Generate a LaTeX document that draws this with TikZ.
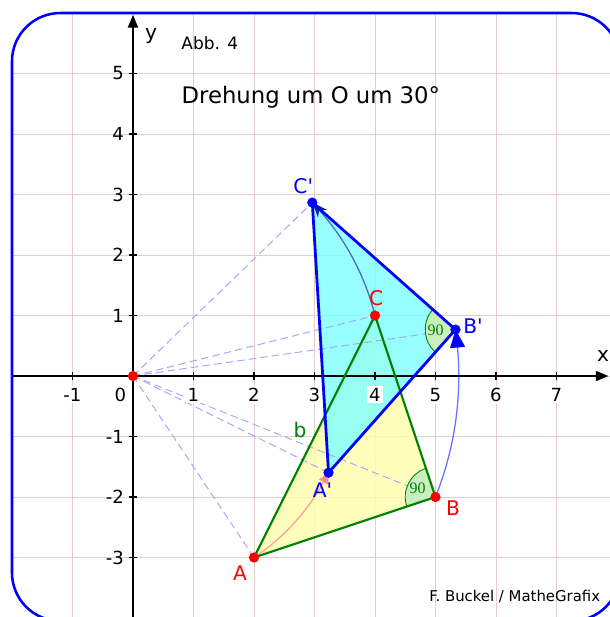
\documentclass[tikz,border=0pt]{standalone}
\usepackage{fontspec}
\setmainfont{DejaVu Sans}
\newfontfamily\serifzahl{Liberation Serif}
\usetikzlibrary{arrows.meta,bending,calc}
\definecolor{gitterrot}{RGB}{228,205,205}
\definecolor{dreieckgelb}{RGB}{255,255,170}
\definecolor{bildcyan}{RGB}{125,255,255}
\definecolor{kantengruen}{RGB}{0,128,0}
\definecolor{winkelgruen}{RGB}{200,240,190}
\definecolor{strahlblau}{RGB}{165,165,250}
\definecolor{stahlblau}{RGB}{70,110,190}
\definecolor{dunkelblau}{RGB}{20,40,150}
\definecolor{bogenblau}{RGB}{110,110,255}
\definecolor{lachs}{RGB}{255,160,160}

\begin{document}
\begin{tikzpicture}[
  gitter/.style={draw=gitterrot,line width=0.45pt},
  achse/.style={line width=0.9pt,-{Triangle[length=6pt,width=4.7pt]}},
  strich/.style={line width=0.9pt},
  zahl/.style={font=\fontsize{8.5}{10}\selectfont,inner sep=1pt},
  strahl/.style={draw=strahlblau,line width=0.45pt,dash pattern=on 3.5pt off 2pt},
  urbild/.style={draw=kantengruen,line width=1pt,line join=round},
  bild/.style={draw=blue,line width=1.3pt,line join=round},
  winkel/.style={draw=kantengruen,fill=winkelgruen,line width=0.4pt},
  neunzig/.style={text=kantengruen,font=\serifzahl\fontsize{7.5}{8}\selectfont,inner sep=0pt},
  punktrot/.style={circle,fill=red,inner sep=0pt,minimum size=0.17cm},
  punktblau/.style={circle,fill=blue,inner sep=0pt,minimum size=0.17cm},
  beschrift/.style={font=\fontsize{9.5}{11}\selectfont,inner sep=0pt},
]
\useasboundingbox (-2.198,-3.983) rectangle (7.868,6.215);

\coordinate (O) at (0,0);
\coordinate (A) at (2,-3);
\coordinate (B) at (5,-2);
\coordinate (C) at (4,1);
\coordinate (A1) at ($(O)!1!30:(A)$);
\coordinate (B1) at ($(O)!1!30:(B)$);
\coordinate (C1) at ($(O)!1!30:(C)$);

\begin{scope}
  \clip[rounded corners=0.8cm] (-2,-4.05) rectangle (8.05,6);
  \draw[gitter] (-2,-4) grid (8,6);
\end{scope}

\fill[dreieckgelb,fill opacity=0.8] (A) -- (B) -- (C) -- cycle;
\fill[bildcyan,fill opacity=0.8] (A1) -- (B1) -- (C1) -- cycle;

\foreach \p in {A,B,C,A1,B1,C1}
  \draw[strahl] (O) -- (\p);

\draw[stahlblau,line width=0.6pt,-{Stealth[length=7pt,width=5.5pt,bend,color=dunkelblau]}]
  (C) arc[start angle=14.036, end angle=44.036, radius=4.1231];
\draw[bogenblau,line width=0.6pt,-{Triangle[length=8.5pt,width=7pt,bend,color=blue]}]
  (B) arc[start angle=-21.801, end angle=8.199, radius=5.3852];
\draw[lachs,line width=0.6pt,-{Triangle[length=5pt,width=5pt,bend,color=lachs!90!red]}]
  (A) arc[start angle=-56.31, end angle=-26.31, radius=3.6056];

\draw[winkel] (B) -- ++(108.435:0.5) arc[start angle=108.435, end angle=198.435, radius=0.5] -- cycle;
\draw[winkel] (B1) -- ++(138.435:0.5) arc[start angle=138.435, end angle=228.435, radius=0.5] -- cycle;
\node[neunzig] (wB) at ($(B)+(153.43:0.33)$) {90};
\node[neunzig] (wB1) at ($(B1)+(183.43:0.33)$) {90};

\draw[achse] (-2,0) -- (7.86,0);
\draw[achse] (0,-4.05) -- (0,5.97);
\foreach \x in {-1,1,2,...,7} {
  \draw[strich] (\x,-0.07) -- (\x,0.07);
  \node[zahl,fill=white] (tx\x) at (\x,-0.31) {\x};
}
\foreach \y in {-3,-2,-1,1,2,...,5} {
  \draw[strich] (-0.07,\y) -- (0.07,\y);
  \node[zahl,anchor=east] (ty\y) at (-0.11,\y) {\y};
}
\node[zahl] (t0) at (-0.21,-0.31) {0};
\node[beschrift] (xlab) at (7.77,0.33) {x};
\node[beschrift] (ylab) at (0.30,5.62) {y};

\draw[urbild] (A) -- (B) -- (C) -- cycle;
\draw[bild] (A1) -- (B1) -- (C1) -- cycle;

\node[punktrot] (pO) at (O) {};
\node[punktrot] (pA) at (A) {};
\node[punktrot] (pB) at (B) {};
\node[punktrot] (pC) at (C) {};
\node[punktblau] (pA1) at (A1) {};
\node[punktblau] (pB1) at (B1) {};
\node[punktblau] (pC1) at (C1) {};

\node[beschrift,red] (lA) at ($(A)+(-0.23,-0.25)$) {A};
\node[beschrift,red] (lB) at ($(B)+(0.29,-0.18)$) {B};
\node[beschrift,red] (lC) at ($(C)+(0.02,0.29)$) {C};
\node[beschrift,blue] (lA1) at ($(A1)+(-0.1,-0.28)$) {A\textquotesingle};
\node[beschrift,blue] (lB1) at ($(B1)+(0.29,0.05)$) {B\textquotesingle};
\node[beschrift,blue] (lC1) at ($(C1)+(-0.15,0.28)$) {C\textquotesingle};
\node[beschrift,kantengruen] (lb) at (2.76,-0.89) {b};

\node[font=\fontsize{8}{10}\selectfont] (abb) at (1.27,5.50) {Abb. 4};
\node[font=\fontsize{10.7}{13}\selectfont] (titel) at (2.94,4.60) {Drehung um O um 30°};
\node[font=\fontsize{7}{9}\selectfont] (autor) at (6.31,-3.65) {F. Buckel / MatheGrafix};

\draw[blue,line width=1.2pt,rounded corners=0.8cm] (-2,-4.05) rectangle (8.05,6);
\end{tikzpicture}
\end{document}
